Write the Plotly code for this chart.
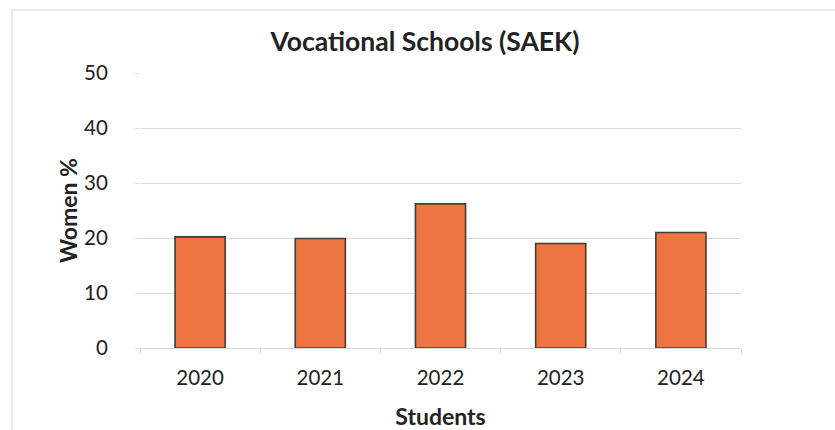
import plotly.graph_objects as go

years = ["2020", "2021", "2022", "2023", "2024"]
women_pct = [20.2, 19.9, 26.2, 19.0, 21.0]
y_ticks = [0, 10, 20, 30, 40, 50]

FONT = "Lato"
TEXT = "#222222"

fig = go.Figure(
    go.Bar(
        x=years,
        y=women_pct,
        marker=dict(color="#EE7442", line=dict(color="#4a3a34", width=1.6)),
    )
)

fig.update_layout(
    width=835,
    height=430,
    margin=dict(l=140, r=94, t=73, b=82),
    paper_bgcolor="white",
    plot_bgcolor="white",
    bargap=0.583,
    showlegend=False,
    font=dict(family=FONT, color=TEXT, size=20.5),
    title=dict(
        text="<b>Vocational Schools (SAEK)</b>",
        x=0.509,
        xanchor="center",
        y=0.902,
        yanchor="middle",
        yref="container",
        font=dict(family=FONT, size=26.5, color=TEXT),
    ),
    # light outline around the chart area, running off the right and bottom edges
    shapes=[
        dict(
            type="rect", xref="paper", yref="paper",
            x0=-0.213, x1=1.2, y0=-0.32, y1=1.229,
            line=dict(color="#d4d4d4", width=1),
        )
    ],
)

fig.update_xaxes(
    automargin=False,
    showgrid=False,
    showline=True,
    linecolor="#d9d9d9",
    ticks="outside",
    tickson="boundaries",
    ticklen=5,
    tickcolor="#d9d9d9",
    ticklabelstandoff=11,
    tickfont=dict(size=20.5),
    title=dict(text="<b>Students</b>", font=dict(size=23), standoff=21),
)

fig.update_yaxes(
    automargin=False,
    range=[0, 50],
    tickvals=y_ticks,
    showgrid=True,
    gridcolor="#dcdcdc",
    zeroline=False,
    showline=False,
    ticks="outside",
    ticklen=4,
    tickcolor="#dcdcdc",
    ticklabelstandoff=23,
    tickfont=dict(size=20.5),
    title=dict(text="<b>Women %</b>", font=dict(size=23), standoff=0),
)

fig.write_html("out.html")
